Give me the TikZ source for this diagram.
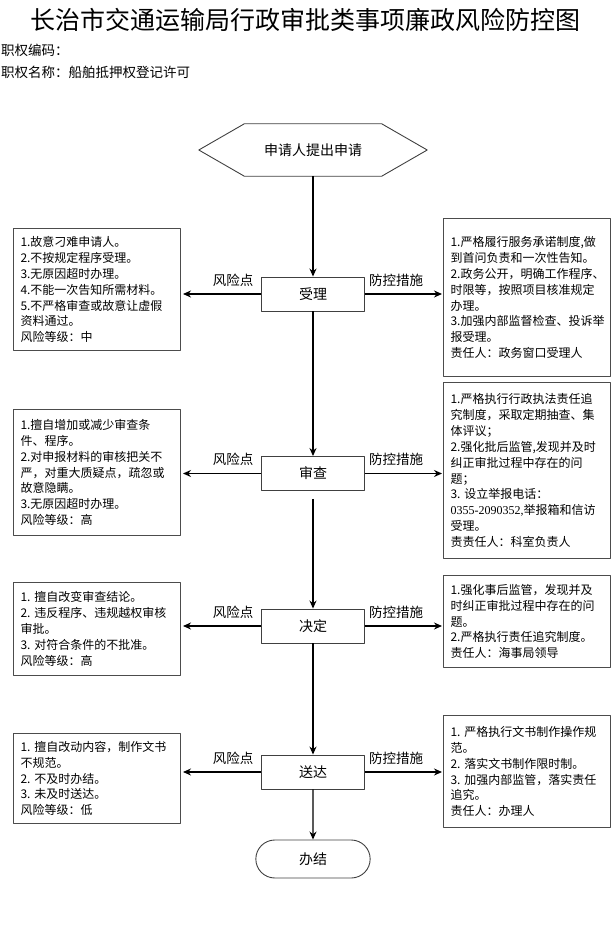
\documentclass[tikz,border=0pt]{standalone}
\usepackage{fontspec}
\setmainfont{Noto Sans CJK SC}
\newfontfamily\latinfont{Liberation Serif}
\usetikzlibrary{arrows.meta,shapes.misc}

\begin{document}
\begin{tikzpicture}[x=1pt, y=-1pt, line join=round, >={Stealth[length=8pt,width=7pt]},
	stagebox/.style={draw=black!75, line width=0.9pt, minimum width=103pt, minimum height=34pt, font=\fontsize{14}{16}\selectfont},
	notebox/.style={draw=black!70, line width=1pt, anchor=north west, text width=153pt, inner xsep=7pt, align=left, font=\fontsize{12}{15.9}\selectfont},
	lbl/.style={font=\fontsize{13.5}{15}\selectfont, inner sep=2pt},
	flow/.style={->, line width=1.3pt}]
			\useasboundingbox (0,0) rectangle (612,931);
			% heading
			\node (title) at (305,20) {\fontsize{25}{28}\selectfont 长治市交通运输局行政审批类事项廉政风险防控图};
			\node[anchor=west, inner sep=1pt, font=\fontsize{13.5}{16}\selectfont] (code) at (0,50) {职权编码：};
			\node[anchor=west, inner sep=1pt, font=\fontsize{13.5}{16}\selectfont] (name) at (0,72) {职权名称：船舶抵押权登记许可};
			% start and stages
			\node[minimum width=137pt, minimum height=52pt, font=\fontsize{14}{16}\selectfont] (apply) at (313,150) {申请人提出申请};
			\draw[black!75, line width=0.9pt] (apply.north west) -- (apply.north east) -- ([xshift=45.5pt]apply.east) -- (apply.south east) -- (apply.south west) -- ([xshift=-45.5pt]apply.west) -- cycle;
			\node[stagebox] (shouli) at (313,294) {受理};
			\node[stagebox] (shencha) at (313,473.5) {审查};
			\node[stagebox] (jueding) at (313,626) {决定};
			\node[stagebox] (songda) at (313,772) {送达};
			\node[draw=black!75, line width=0.9pt, rounded rectangle, minimum width=121pt, minimum height=38pt, font=\fontsize{14}{16}\selectfont] (banjie) at (313,859) {办结};
			% risk points
			\node[notebox, minimum height=122pt] (risk1) at (13,228) {1.故意刁难申请人。\\2.不按规定程序受理。\\3.无原因超时办理。\\4.不能一次告知所需材料。\\5.不严格审查或故意让虚假\\资料通过。\\风险等级：中};
			\node[notebox, minimum height=126pt] (risk2) at (13,409) {1.擅自增加或减少审查条\\件、程序。\\2.对申报材料的审核把关不\\严，对重大质疑点，疏忽或\\故意隐瞒。\\3.无原因超时办理。\\风险等级：高};
			\node[notebox, minimum height=93pt] (risk3) at (13,582) {1.~擅自改变审查结论。\\2.~违反程序、违规越权审核\\审批。\\3.~对符合条件的不批准。\\风险等级：高};
			\node[notebox, minimum height=90pt] (risk4) at (13,733) {1.~擅自改动内容，制作文书\\不规范。\\2.~不及时办结。\\3.~未及时送达。\\风险等级：低};
			% control measures
			\node[notebox, minimum height=158pt] (ctrl1) at (443,218) {1.严格履行服务承诺制度,做\\到首问负责和一次性告知。\\2.政务公开，明确工作程序、\\时限等，按照项目核准规定\\办理。\\3.加强内部监督检查、投诉举\\报受理。\\责任人：政务窗口受理人};
			\node[notebox, minimum height=176pt] (ctrl2) at (443,382) {1.严格执行行政执法责任追\\究制度，采取定期抽查、集\\体评议；\\2.强化批后监管,发现并及时\\纠正审批过程中存在的问\\题；\\3.~设立举报电话：\\\mbox{\latinfont 0355-2090352,}举报箱和信访\\受理。\\责责任人：科室负责人};
			\node[notebox, minimum height=92pt] (ctrl3) at (443,575) {1.强化事后监管，发现并及\\时纠正审批过程中存在的问\\题。\\2.严格执行责任追究制度。\\责任人：海事局领导};
			\node[notebox, minimum height=112pt] (ctrl4) at (443,715) {1.~严格执行文书制作操作规\\范。\\2.~落实文书制作限时制。\\3.~加强内部监管，落实责任\\追究。\\责任人：办理人};
			% connectors
			\draw[flow] (apply) -- (shouli);
			\draw[flow] (shouli) -- (shencha);
			\draw[flow, shorten <=8pt] (shencha) -- (jueding);
			\draw[flow] (jueding) -- (songda);
			\draw[flow] (songda) -- (banjie);
			\foreach \s/\r/\c in {shouli/risk1/ctrl1, shencha/risk2/ctrl2, jueding/risk3/ctrl3, songda/risk4/ctrl4}{
				\draw[flow, shorten >=2pt] (\s.west) -- node[lbl, above=5pt, pos=0.35]{风险点} (\s.west -| \r.east);
				\draw[flow, shorten >=1pt] (\s.east) -- node[lbl, above=5pt, pos=0.4]{防控措施} (\s.east -| \c.west);
			}
		\end{tikzpicture}
\end{document}
